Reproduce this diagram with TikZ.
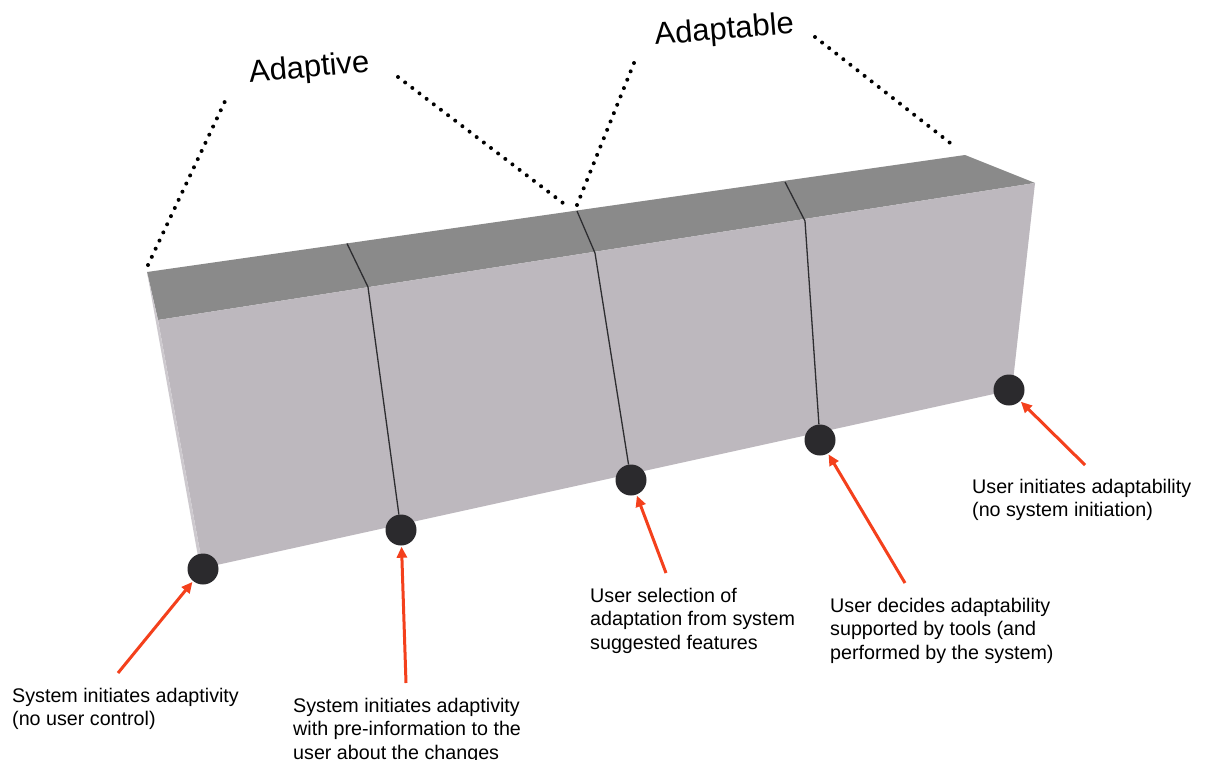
\documentclass[tikz,border=0pt]{standalone}
\usepackage{fontspec}
\setmainfont{Liberation Sans}
\usetikzlibrary{arrows.meta}
\definecolor{topface}{RGB}{138,138,138}
\definecolor{frontface}{RGB}{189,184,190}
\definecolor{sideface}{RGB}{205,201,206}
\definecolor{dotcol}{RGB}{43,42,45}
\definecolor{arrowred}{RGB}{244,64,28}
\definecolor{divcol}{RGB}{45,45,48}
\tikzset{
  stage/.style={circle,fill=dotcol,draw=none,minimum size=31pt,inner sep=0pt},
  caption/.style={anchor=base west,align=left,inner sep=0pt,font=\fontsize{19.7}{23.5}\selectfont,text=black},
  title/.style={anchor=base,inner sep=0pt,font=\fontsize{31}{36}\selectfont,text=black},
  redarrow/.style={draw=arrowred,line width=3pt,-{Triangle[length=11pt,width=10pt]},shorten >=1pt},
  dotline/.style={line width=4pt,line cap=round,dash pattern=on 0pt off 9pt,black},
  divider/.style={draw=divcol,line width=1.3pt}
}
\begin{document}
\begin{tikzpicture}[x=1pt,y=-1pt]
\useasboundingbox[fill=white] (0,0) rectangle (1205,760);
% box faces
\fill[topface] (147,272) -- (965,155) -- (1035,183) -- (158,320) -- cycle;
\fill[frontface] (158,320) -- (1035,183) -- (1012,390) -- (203,568) -- cycle;
\fill[sideface] (147,272) -- (158,320) -- (203,568) -- (199,562) -- cycle;
% divider coordinates
\coordinate (b1) at (347,243.5);
\coordinate (f1) at (368,287);
\coordinate (b2) at (577,211);
\coordinate (f2) at (595,253);
\coordinate (b3) at (785,182);
\coordinate (f3) at (805,221);
% stage dots
\node[stage] (d1) at (203,569) {};
\node[stage] (d2) at (401,530) {};
\node[stage] (d3) at (631,480) {};
\node[stage] (d4) at (820,440) {};
\node[stage] (d5) at (1009,390) {};
\draw[divider] (b1) -- (f1) -- (d2);
\draw[divider] (b2) -- (f2) -- (d3);
\draw[divider] (b3) -- (f3) -- (d4);
% titles
\node[title,rotate=5.3] (adaptive) at (310,77) {Adaptive};
\node[title,rotate=4.9] (adaptable) at (725,39) {Adaptable};
% dotted brackets
\coordinate (p1a) at (148,265); \coordinate (p1b) at (227,97);
\coordinate (p2a) at (398,77);  \coordinate (p2b) at (563,203);
\coordinate (p3a) at (577,205); \coordinate (p3b) at (636,58);
\coordinate (p4a) at (815,37);  \coordinate (p4b) at (954,146);
\draw[dotline] (p1a) -- (p1b);
\draw[dotline] (p2a) -- (p2b);
\draw[dotline] (p3a) -- (p3b);
\draw[dotline] (p4a) -- (p4b);
% captions (anchored at the baseline of their last line)
\node[caption] (c1) at (12,725.5) {System initiates adaptivity\\(no user control)};
\node[caption] (c2) at (293,759) {System initiates adaptivity\\with pre-information to the\\user about the changes};
\node[caption] (c3) at (590,649) {User selection of\\adaptation from system\\suggested features};
\node[caption] (c4) at (830,659) {User decides adaptability\\supported by tools (and\\performed by the system)};
\node[caption] (c5) at (972,516.5) {User initiates adaptability\\(no system initiation)};
% arrows
\coordinate (t1) at (118,673);
\coordinate (t2) at (406,683);
\coordinate (t3) at (666,573);
\coordinate (t4) at (905,583);
\coordinate (t5) at (1085,465);
\draw[redarrow] (t1) -- (d1);
\draw[redarrow] (t2) -- (d2);
\draw[redarrow] (t3) -- (d3);
\draw[redarrow] (t4) -- (d4);
\draw[redarrow] (t5) -- (d5);
\end{tikzpicture}
\end{document}
